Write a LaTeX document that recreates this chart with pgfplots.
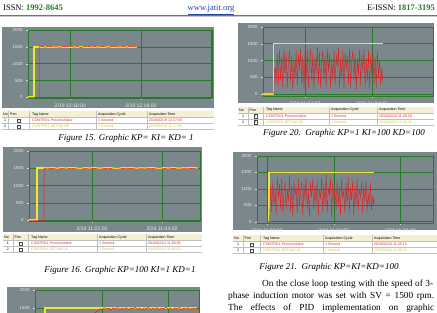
\documentclass[border=0pt]{standalone}
\usepackage{fontspec}
\setmainfont{Liberation Serif}
\setsansfont{Liberation Sans}
\newfontfamily\dejavu{DejaVu Sans}
\usepackage{pgfplots}
\pgfplotsset{compat=1.18}
\definecolor{panelgray}{RGB}{122,136,139}
\definecolor{gridgreen}{RGB}{38,122,40}
\definecolor{spyellow}{RGB}{238,232,45}
\definecolor{pvred}{RGB}{222,36,40}
\definecolor{hdrbeige}{RGB}{244,240,214}
\definecolor{issngreen}{RGB}{40,120,40}
\definecolor{linkblue}{RGB}{40,70,170}
\definecolor{rowred}{RGB}{232,40,50}
\definecolor{rowyellow}{RGB}{205,195,70}
\pgfplotsset{scada/.style={
  scale only axis,
  axis background/.style={fill=panelgray},
  axis line style={draw=gridgreen,line width=0.7pt},
  xmajorgrids, ymajorgrids,
  major grid style={draw=gridgreen,line width=0.6pt},
  ymax=2000, ytick={0,500,1000,1500,2000},
  yticklabel style={font=\fontsize{4.4}{5}\selectfont\sffamily, text=white!92!black},
  xticklabel style={font=\fontsize{5.1}{6}\selectfont\sffamily, text=white!92!black},
  /pgf/number format/1000 sep={},
  /pgf/number format/assume math mode=true,
  tick align=outside,
  major tick length=2pt, minor tick length=1.2pt,
  tick style={draw=white!85!black, line width=0.3pt},
  minor x tick num=9,
  xtick pos=bottom, ytick pos=left,
}}
\newcommand{\tf}{\fontsize{3.6}{4}\selectfont\sffamily}
\newcommand{\sctable}[8]{%
  \fill[hdrbeige] (#1,#3) rectangle (#2,#3-6.5);
  \fill[white] (#1,#3-6.5) rectangle (#2,#3-18.5);
  \draw[black!25,line width=0.3pt] (#1,#3-6.5) -- (#2,#3-6.5) (#1,#3-12.5) -- (#2,#3-12.5) (#1,#3-18.5) -- (#2,#3-18.5);
  \foreach \s in {#4,#5,#6,#7} {\draw[black!25,line width=0.3pt] (\s,#3) -- (\s,#3-18.5);}
  \node[anchor=west,inner sep=0,font=\tf] at (#1+1,#3-3.25) {No};
  \node[anchor=west,inner sep=0,font=\tf] at (#4+1.5,#3-3.25) {Pen};
  \node[anchor=west,inner sep=0,font=\tf] at (#5+3,#3-3.25) {Tag Name};
  \node[anchor=west,inner sep=0,font=\tf] at (#6+2,#3-3.25) {Acquisition Cycle};
  \node[anchor=west,inner sep=0,font=\tf] at (#7+2,#3-3.25) {Acquisition Time};
  \node[inner sep=0,font=\tf] at ({(#1+#4)/2},#3-9.5) {1};
  \node[inner sep=0,font=\tf] at ({(#1+#4)/2},#3-15.5) {2};
  \node[draw=black!70,line width=0.25pt,minimum size=3.4pt,inner sep=0,font=\dejavu\fontsize{3.2}{3.4}\selectfont] at ({(#4+#5)/2},#3-9.5) {✓};
  \node[draw=black!70,line width=0.25pt,minimum size=3.4pt,inner sep=0,font=\dejavu\fontsize{3.2}{3.4}\selectfont] at ({(#4+#5)/2},#3-15.5) {✓};
  \node[anchor=west,inner sep=0,font=\tf,text=rowred] at (#5+3,#3-9.5) {CONTROL.ProcessValue};
  \node[anchor=west,inner sep=0,font=\tf,text=rowyellow] at (#5+3,#3-15.5) {CONTROL.SETVALUE};
  \node[anchor=west,inner sep=0,font=\tf,text=rowred] at (#6+2,#3-9.5) {1 Second};
  \node[anchor=west,inner sep=0,font=\tf,text=rowyellow] at (#6+2,#3-15.5) {1 Second};
  \node[anchor=west,inner sep=0,font=\tf,text=rowred] at (#7+2,#3-9.5) {#8};
  \node[anchor=west,inner sep=0,font=\tf,text=rowyellow] at (#7+2,#3-15.5) {#8};
}
\begin{document}
\begin{tikzpicture}[x=1pt,y=1pt]
\useasboundingbox (0,0) rectangle (437,313);
% header
\node[anchor=base west,inner sep=0,font=\fontsize{8.5}{10}\selectfont] at (3,302) {ISSN: \textcolor{issngreen}{\textbf{1992-8645}}};
\node[anchor=base,inner sep=0,font=\fontsize{8.5}{10}\selectfont,text=linkblue] at (211,302) {\underline{www.jatit.org}};
\node[anchor=base east,inner sep=0,font=\fontsize{8.5}{10}\selectfont] at (435,302) {E-ISSN: \textcolor{issngreen}{\textbf{1817-3195}}};
\draw[black!55,line width=0.8pt] (0,298) -- (437,298);
\draw[black!20,line width=0.6pt] (0,297) -- (437,297);
% panel backgrounds
\fill[panelgray] (2,205) rectangle (214,286);
\fill[panelgray] (3,81) rectangle (202,166);
\fill[panelgray] (238,210) rectangle (434,290);
\fill[panelgray] (233,83) rectangle (437,161);
\fill[panelgray] (7,-60) rectangle (200,26);
% ---- Figure 15
\begin{axis}[scada, at={(28pt,215pt)}, anchor=south west, width=184pt, height=68pt,
  xmin=-72, xmax=241, ymin=-20, xtick={0,120,240},
  xticklabels={2/19 12:16:00,2/19 12:18:00,{}}]
\addplot[spyellow, line width=2pt] coordinates {(-72,0) (-61,0) (-61,1500) (114,1500)};
\addplot[pvred, line width=0.6pt] coordinates {(-72,0) (-53,0) (-53,1500)
 (-48,1510) (-42,1490) (-36,1520) (-30,1495) (-24,1505) (-18,1485) (-12,1515) (-6,1500) (0,1525) (6,1490)
 (12,1510) (18,1480) (24,1505) (30,1520) (36,1495) (42,1510) (48,1490) (54,1515) (60,1500) (66,1485)
 (72,1520) (78,1505) (84,1495) (90,1510) (96,1490) (102,1515) (108,1500) (114,1505)};
\end{axis}
\sctable{2}{214}{202}{8.5}{29}{96}{147}{2016/02/19 12:17:55}
\node[font=\fontsize{9}{11}\selectfont\itshape] at (126,175) {Figure 15. Graphic KP= KI= KD= 1};
% ---- Figure 16
\begin{axis}[scada, at={(29pt,92pt)}, anchor=south west, width=171pt, height=70pt,
  xmin=-108, xmax=185, ymin=-20, xtick={0,120},
  xticklabels={2/24 11:02:00,2/24 11:04:00}]
\addplot[spyellow, line width=2pt] coordinates {(-108,0) (-94,0) (-94,1500) (182,1500)};
\addplot[pvred, line width=0.6pt] coordinates {(-108,0) (-82,0) (-82,1500)
 (-76,1505) (-68,1490) (-60,1515) (-52,1495) (-44,1510) (-36,1485) (-28,1505) (-20,1520) (-12,1495) (-4,1510)
 (4,1490) (12,1515) (20,1500) (28,1485) (36,1510) (44,1520) (52,1495) (60,1505) (68,1490) (76,1515)
 (84,1500) (92,1510) (100,1485) (108,1505) (116,1520) (124,1495) (132,1510) (140,1490) (148,1515) (156,1500)
 (164,1505) (172,1490) (180,1510) (182,1500)};
\end{axis}
\sctable{3}{202}{79}{13}{28}{97}{146}{2016/02/24 11:05:02}
\node[font=\fontsize{9}{11}\selectfont\itshape] at (120,43) {Figure 16. Graphic KP=100 KI=1 KD=1};
% ---- Figure 20
\begin{axis}[scada, at={(263pt,217pt)}, anchor=south west, width=170pt, height=69pt,
  xmin=-75.6, xmax=230, ymin=-60, xtick={0,120},
  xticklabels={2/24 11:22:00,2/24 11:24:00}]
\addplot[spyellow, line width=1.1pt] coordinates {(-75.6,0) (-57,0) (-57,1500) (140,1500)};
\addplot[pvred, line width=0.45pt] coordinates {(-75.6,0) (-56,0) (-55,750) (-53,760) (-52,300)
 (-50,1200) (-48,250) (-46,1300) (-44,400) (-42,1100) (-40,150) (-38,1350) (-36,600) (-34,1250) (-32,200)
 (-30,900) (-28,1300) (-26,350) (-24,1150) (-22,100) (-20,1000) (-18,450) (-16,1320) (-14,250) (-12,1200)
 (-10,700) (-8,1350) (-6,300) (-4,1100) (-2,150) (0,1250) (2,500) (4,1300) (6,200) (8,950)
 (10,1350) (12,400) (14,1200) (16,120) (18,1100) (20,600) (22,1380) (24,300) (26,1250) (28,180)
 (30,1000) (32,1300) (34,450) (36,1150) (38,220) (40,1350) (42,650) (44,1200) (46,150) (48,1050)
 (50,400) (52,1300) (54,250) (56,1200) (58,800) (60,1370) (62,200) (64,1100) (66,500) (68,1300)
 (70,130) (72,1250) (74,700) (76,1150) (78,300) (80,1350) (82,180) (84,1000) (86,1300) (88,420)
 (90,1200) (92,100) (94,1100) (96,550) (98,1330) (100,250) (102,1200) (104,650) (106,1350) (108,200)
 (110,1050) (112,400) (114,1300) (116,150) (118,1150) (120,600) (122,1280) (124,300) (126,1100) (128,180)
 (130,1250) (132,500) (134,1000) (136,250) (138,800) (140,350)};
\end{axis}
\sctable{238}{434}{206.25}{248}{263}{329}{377}{2016/02/24 11:26:20}
\node[font=\fontsize{9}{11}\selectfont\itshape] at (344,180) {Figure 20.\ \ Graphic KP=1 KI=100 KD=100};
% ---- Figure 21
\begin{axis}[scada, at={(257pt,90pt)}, anchor=south west, width=176pt, height=67pt,
  xmin=-18.6, xmax=299, ymin=-40, xtick={0,120,240},
  xticklabels={2/24 11:32:00,2/24 11:34:00,2/24 11:36:00}]
\addplot[spyellow, line width=1.1pt] coordinates {(-18.6,0) (3,0) (3,1500) (193,1500)};
\addplot[pvred, line width=0.45pt] coordinates {(-18.6,0) (4,0)
 (6,1100) (8,300) (10,1250) (12,500) (14,1000) (16,200) (18,1350) (20,700) (22,1150) (24,400)
 (26,1300) (28,250) (30,900) (32,1200) (34,350) (36,1000) (38,600) (40,1400) (42,300) (44,1100)
 (46,150) (48,1250) (50,800) (52,1050) (54,250) (56,1300) (58,500) (60,950) (62,1200) (64,200)
 (66,1150) (68,650) (70,1350) (72,400) (74,1000) (76,150) (78,1200) (80,750) (82,1300) (84,350)
 (86,1100) (88,550) (90,1250) (92,200) (94,1000) (96,700) (98,1350) (100,300) (102,1150) (104,500)
 (106,1450) (108,250) (110,1050) (112,800) (114,1300) (116,150) (118,1200) (120,600) (122,1000) (124,350)
 (126,1250) (128,450) (130,1100) (132,200) (134,1300) (136,700) (138,950) (140,250) (142,1200) (144,550)
 (146,1350) (148,300) (150,1050) (152,650) (154,1250) (156,180) (158,1100) (160,500) (162,1300) (164,350)
 (166,1000) (168,750) (170,1200) (172,250) (174,1100) (176,600) (178,1250) (180,300) (182,900) (184,450)
 (186,1200) (188,350) (190,800) (192,500) (193,700)};
\end{axis}
\sctable{233}{437}{78}{243}{260}{323}{372}{2016/02/24 11:35:13}
\node[font=\fontsize{9}{11}\selectfont\itshape] at (329,46) {Figure 21.\ \ Graphic KP=KI=KD=100};
% ---- partial next figure
\begin{axis}[scada, at={(35pt,-50pt)}, anchor=south west, width=164pt, height=73pt,
  xmin=-122, xmax=176, ymin=-20, xtick={0,120}, ytick={1500,2000},
  xticklabels={,}]
\addplot[spyellow, line width=2pt] coordinates {(-122,0) (-104,0) (-104,1500) (173,1500)};
\addplot[pvred, line width=0.6pt] coordinates {(-122,0) (-98,0) (-90,350) (-70,800) (-45,1100) (-20,1300) (-8,1420)
 (-4,1480) (0,1460) (4,1510) (8,1470) (12,1495) (16,1450) (20,1505) (24,1475) (28,1515) (32,1460)
 (36,1490) (40,1470) (44,1510) (48,1455) (52,1500) (56,1480) (60,1520) (64,1465) (68,1495) (72,1450)
 (76,1505) (80,1475) (84,1515) (88,1460) (92,1490) (96,1470) (100,1510) (104,1455) (108,1500) (112,1480)
 (116,1520) (120,1465) (124,1495) (128,1450) (132,1505) (136,1475) (140,1515) (144,1460) (148,1490) (152,1470)
 (156,1510) (160,1455) (164,1500) (168,1480) (172,1495)};
\end{axis}
% body text
\node[anchor=base west,inner sep=0,font=\fontsize{9.3}{11}\selectfont] at (262,26) {\makebox[171pt][s]{On the close loop testing with the speed of 3-}};
\node[anchor=base west,inner sep=0,font=\fontsize{9.3}{11}\selectfont] at (228,14) {\makebox[206pt][s]{phase induction motor was set with SV = 1500 rpm.}};
\node[anchor=base west,inner sep=0,font=\fontsize{9.3}{11}\selectfont] at (228,2.5) {\makebox[206pt][s]{The effects of PID implementation on graphic}};
\end{tikzpicture}
\end{document}
